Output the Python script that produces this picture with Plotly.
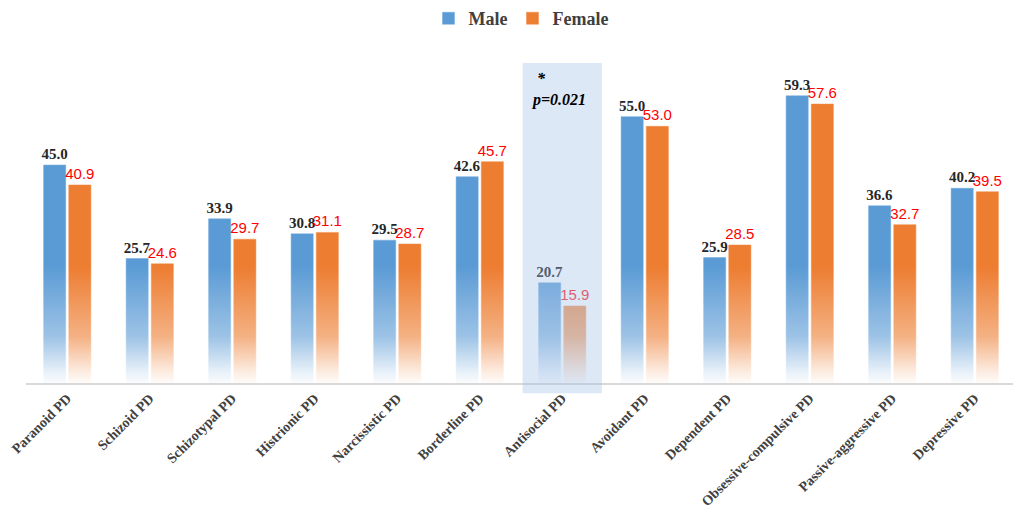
import plotly.graph_objects as go

categories = ["Paranoid PD", "Schizoid PD", "Schizotypal PD", "Histrionic PD",
              "Narcissistic PD", "Borderline PD", "Antisocial PD", "Avoidant PD",
              "Dependent PD", "Obsessive-compulsive PD", "Passive-aggressive PD",
              "Depressive PD"]
male = [45.0, 25.7, 33.9, 30.8, 29.5, 42.6, 20.7, 55.0, 25.9, 59.3, 36.6, 40.2]
female = [40.9, 24.6, 29.7, 31.1, 28.7, 45.7, 15.9, 53.0, 28.5, 57.6, 32.7, 39.5]
highlight = "Antisocial PD"
annot_lines = ["*", "p=0.021"]

SERIF = "Liberation Serif, Times New Roman, serif"
SANS = "Liberation Sans Narrow, Liberation Sans, Arial, sans-serif"

fig = go.Figure()
fig.add_trace(go.Bar(
    name="Male", x=categories, y=male,
    marker=dict(color="#5b9bd5", line=dict(color="#6fa8dc", width=0.5)),
    text=[f"{v:.1f}" for v in male], textposition="outside", cliponaxis=False,
    constraintext="none",
    textfont=dict(family=SERIF, size=15, color="#262626", weight="bold"),
))
fig.add_trace(go.Bar(
    name="Female", x=categories, y=female,
    marker=dict(color="#ed7d31", line=dict(color="#f08a45", width=0.5)),
    text=[f"{v:.1f}" for v in female], textposition="outside", cliponaxis=False,
    constraintext="none",
    textfont=dict(family=SANS, size=15, color="#ff0000"),
))

# white fade overlay at the bottom of the bars (gradient effect)
fig.add_trace(go.Scatter(
    x=[0, 1, 1, 0, 0], y=[0, 0, 24, 24, 0], xaxis="x2", yaxis="y",
    mode="lines", line=dict(width=0), fill="toself",
    fillgradient=dict(type="vertical", start=0, stop=24,
                      colorscale=[[0, "rgba(255,255,255,0.97)"],
                                  [0.1, "rgba(255,255,255,0.85)"],
                                  [0.4, "rgba(255,255,255,0.4)"],
                                  [1, "rgba(255,255,255,0)"]]),
    showlegend=False, hoverinfo="skip",
))

idx = categories.index(highlight)
fig.add_shape(type="rect", xref="x", yref="paper",
              x0=idx - 0.48, x1=idx + 0.48, y0=-0.03, y1=0.944,
              fillcolor="rgba(157,189,230,0.35)", line=dict(width=0), layer="above")
fig.add_annotation(x=idx - 0.33, xref="x", y=0.898, yref="paper",
                   text="<b><i>" + annot_lines[0] + "</i></b>",
                   showarrow=False, xanchor="left", yanchor="middle",
                   font=dict(family=SERIF, size=16, color="#000000"))
fig.add_annotation(x=idx - 0.40, xref="x", y=0.835, yref="paper",
                   text="<b><i>" + annot_lines[1] + "</i></b>",
                   showarrow=False, xanchor="left", yanchor="middle",
                   font=dict(family=SERIF, size=16, color="#000000"))

# the page adds an 8px body margin, so the figure is sized to fit the window
fig.update_layout(
    width=1013, height=515,
    margin=dict(l=18, r=5, t=36, b=140, autoexpand=False),
    plot_bgcolor="white", paper_bgcolor="white",
    barmode="group", bargap=0.39, bargroupgap=0.12,
    legend=dict(orientation="h", x=0.5, xanchor="center", y=1.075, yanchor="middle",
                font=dict(family=SERIF, size=18, color="#404040", weight="bold"),
                itemwidth=30, traceorder="normal"),
    xaxis=dict(tickangle=-45, showline=True, linecolor="#d9d9d9", linewidth=1.5,
               ticks="", showgrid=False, automargin=False,
               tickfont=dict(family=SERIF, size=14, color="#404040", weight="bold")),
    xaxis2=dict(overlaying="x", range=[0, 1], visible=False, fixedrange=True),
    yaxis=dict(range=[0, 70], visible=False, showgrid=False, zeroline=False,
               automargin=False),
)

fig.write_html("out.html")
